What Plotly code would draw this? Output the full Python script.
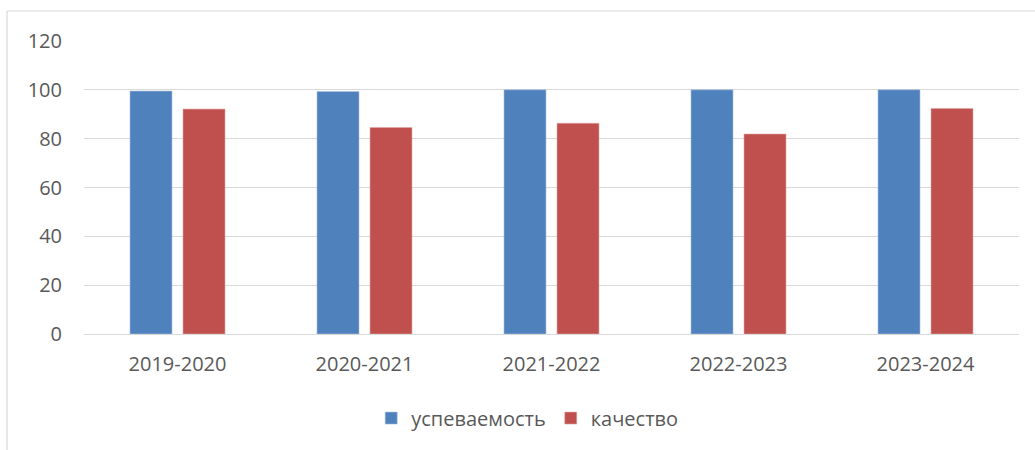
import plotly.graph_objects as go

categories = ["2019-2020", "2020-2021", "2021-2022", "2022-2023", "2023-2024"]
uspevaemost = [99.5, 99.3, 100, 100, 100]
kachestvo = [92.1, 84.6, 86.3, 81.9, 92.4]
y_ticks = [0, 20, 40, 60, 80, 100, 120]

FONT = "Open Sans"
GRAY = "#595959"

fig = go.Figure()
fig.add_trace(go.Bar(x=categories, y=uspevaemost, name="успеваемость",
                     marker=dict(color="#4F81BD", line=dict(color="#A9C1E0", width=0.6))))
fig.add_trace(go.Bar(x=categories, y=kachestvo, name="качество",
                     marker=dict(color="#C0504D", line=dict(color="#E0A8A6", width=0.6))))

fig.update_layout(
    width=1035, height=450,
    autosize=False,
    margin=dict(l=84, r=16, t=41, b=116, pad=0, autoexpand=False),
    paper_bgcolor="white", plot_bgcolor="white",
    barmode="group", bargap=0.433, bargroupgap=0.2075,
    font=dict(family=FONT, size=20, color=GRAY),
    showlegend=True,
    legend=dict(orientation="h", x=0.474, xanchor="center", y=-0.287, yanchor="middle",
                font=dict(family=FONT, size=20, color=GRAY), itemwidth=30,
                traceorder="normal"),
    xaxis=dict(showgrid=False, showline=True, linecolor="#D9D9D9", linewidth=1,
               automargin=False,
               ticks="", ticklabelstandoff=12, tickfont=dict(size=20, color=GRAY)),
    yaxis=dict(range=[0, 120], tickvals=y_ticks, showgrid=True, gridcolor="#D9D9D9",
               gridwidth=1, zeroline=False, showline=False, ticks="", automargin=False,
               ticklabelstandoff=21, tickfont=dict(size=20, color=GRAY)),
    shapes=[
        dict(type="line", xref="paper", yref="paper",
             x0=(7 - 84) / 935, x1=(1035 - 84) / 935 + 0.01,
             y0=(334 - 11) / 293, y1=(334 - 11) / 293,
             line=dict(color="#D9D9D9", width=1.2)),
        dict(type="line", xref="paper", yref="paper",
             x0=(7 - 84) / 935, x1=(7 - 84) / 935,
             y0=(334 - 11) / 293, y1=(334 - 452) / 293,
             line=dict(color="#D9D9D9", width=1.2)),
    ],
)

fig.write_html("out.html", config={"displayModeBar": False},
               post_script="document.body.style.margin='0';document.body.style.overflow='hidden';")
